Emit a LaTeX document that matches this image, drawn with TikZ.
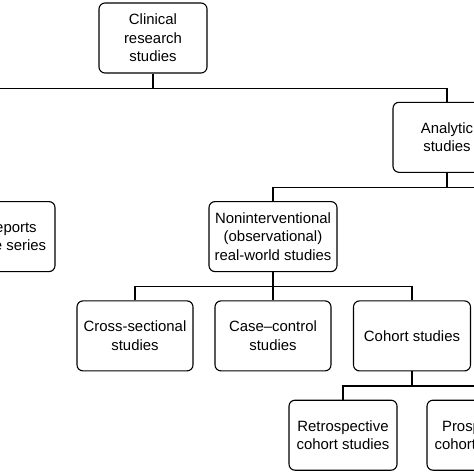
\documentclass[tikz,border=0pt]{standalone}
\usepackage{fontspec}
\setmainfont{Liberation Sans}
\usetikzlibrary{positioning}

\begin{document}
\begin{tikzpicture}[x=1pt,y=-1pt,node distance=99.3pt,
  thick,box/.style={draw,rectangle,rounded corners=6pt,line width=1.1pt,minimum height=70pt,
    inner sep=0pt,align=center,font=\fontsize{14.9}{18.5}\selectfont},
  link/.style={line width=1.1pt}]
  \useasboundingbox (0,0) rectangle (474,474);
  \clip (0,0) rectangle (474,474);

  \node[box,minimum width=108pt] (clin) at (153,38) {Clinical\\research\\studies};
  \node[box,minimum width=108pt] (ana) [below of=clin,xshift=294pt] {Analytic\\studies};
  \node[box,minimum width=122pt] (case) [below of=ana,xshift=-453pt] {Case reports\\and case series};
  \node[box,minimum width=128pt] (nonint) [below of=ana,xshift=-174pt] {Noninterventional\\(observational)\\real-world studies};
  \node[box,minimum width=116pt] (cross) [below of=nonint,xshift=-138pt] {Cross-sectional\\studies};
  \node[box,minimum width=116pt] (cc) [below of=nonint] {Case--control\\studies};
  \node[box,minimum width=117pt] (cohort) [below of=nonint,xshift=139pt] {Cohort studies};
  \node[box,minimum width=108pt] (retro) [below of=cohort,xshift=-69pt] {Retrospective\\cohort studies};
  \node[box,minimum width=108pt] (prosp) [below of=cohort,xshift=69pt] {Prospective\\cohort studies};

  % off-picture ends of the buses
  \coordinate (desc) at (-141,102);
  \coordinate (inter) at (621,201);

  \draw[link] (clin.south) -- ++(0,-14.5pt) coordinate (b1)
    (desc) |- (b1) -| (ana.north);
  \draw[link] (ana.south) -- ++(0,-14.5pt) coordinate (b2)
    (nonint.north) |- (b2) -| (inter);
  \draw[link] (nonint.south) -- ++(0,-14.5pt) coordinate (b3)
    (cross.north) |- (b3) -| (cohort.north)
    (cc.north) -- (b3);
  \draw[link] (cohort.south) -- ++(0,-14.5pt) coordinate (b4)
    (retro.north) |- (b4) -| (prosp.north);
\end{tikzpicture}
\end{document}
